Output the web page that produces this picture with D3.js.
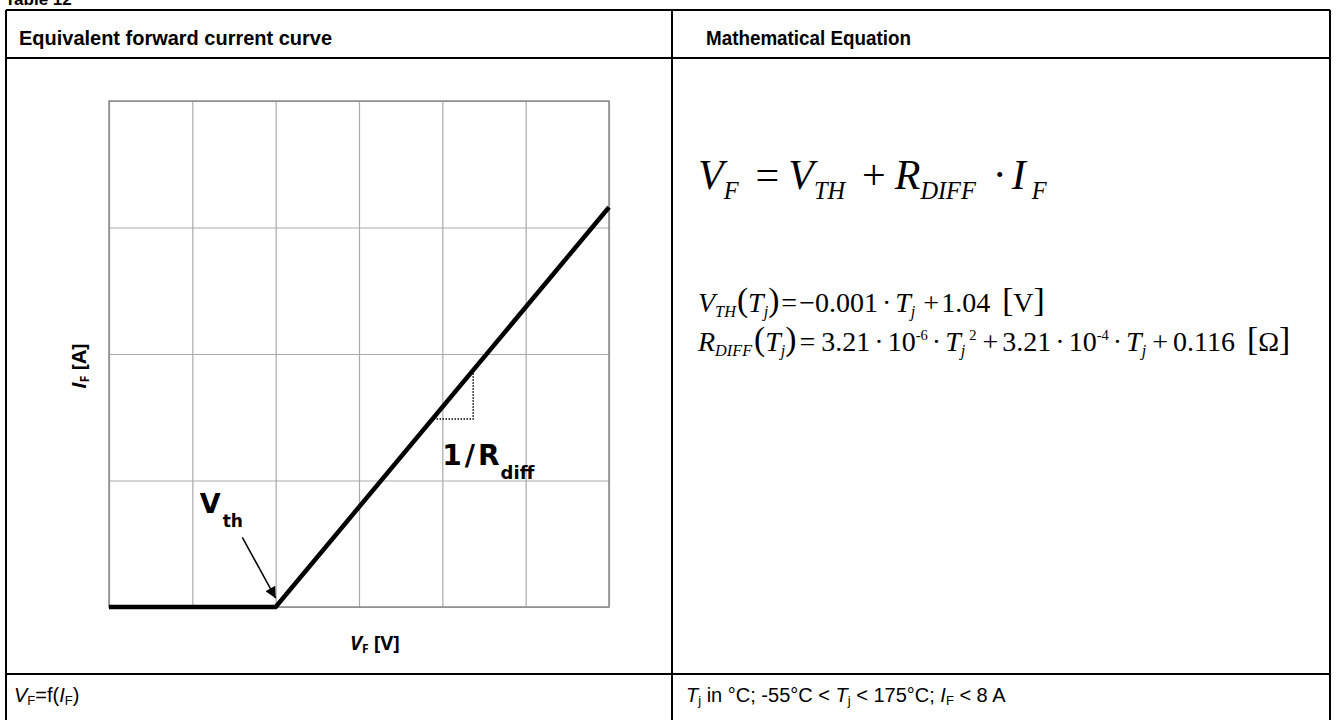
<!DOCTYPE html>
<html>
<head>
<meta charset="utf-8">
<script src="https://cdn.jsdelivr.net/npm/d3@7"></script>
<style>
  body { margin: 0; background: #fff; }
  svg { display: block; }
  .grid line { stroke: #aaa; stroke-width: 1.2; }
  .grid path { display: none; }
  .sans { font-family: "Liberation Sans", Arial, sans-serif; }
  .label { font-family: "DejaVu Sans", Verdana, sans-serif; font-weight: bold; }
  .axis-label { font-family: "Open Sans", "Noto Sans", sans-serif; font-weight: bold; }
  .math { font-family: "Liberation Serif", "Times New Roman", serif; }
</style>
</head>
<body>
<svg width="1336" height="720"></svg>
<script>
// equivalent forward curve, in grid units (6 divisions of V_F, 4 of I_F)
var vfPoints = [0, 2, 6];
var ifPoints = [0, 0, 3.16];
var xTicks = [0, 1, 2, 3, 4, 5, 6];
var yTicks = [0, 1, 2, 3, 4];

// annotations (grid units)
var vthLabel = [1.09, 0.74];
var vthArrow = [[1.6, 0.55], [2.0, 0.07]];
var rdiffLabel = [4.0, 1.12];
var slopeV = 4.37, slopeI = 1.486;

var headers = ["Equivalent forward current curve", "Mathematical Equation"];

var svg = d3.select("svg"),
    margin = {top: 101, left: 109},
    width = 500,
    height = 506;

// TABLE ------------------------
var tbl = svg.append("g").attr("class", "table");
svg.append("text")
    .attr("class", "sans")
    .attr("x", 5).attr("y", 5)
    .attr("font-size", 17).attr("font-weight", "bold")
    .text("Table 12");

var rowTop = 10, headBottom = 58, footTop = 674;
[[6, rowTop, 1330, rowTop], [6, headBottom, 1330, headBottom], [6, footTop, 1330, footTop],
 [6, 722, 1330, 722], [6, rowTop, 6, 722], [672, rowTop, 672, 722], [1330, rowTop, 1330, 722]]
  .forEach(function(l) {
    tbl.append("line")
        .attr("x1", l[0]).attr("y1", l[1])
        .attr("x2", l[2]).attr("y2", l[3])
        .attr("stroke", "#000")
        .attr("stroke-width", 2);
  });

svg.append("text").attr("class", "sans")
    .attr("x", 19).attr("y", 45)
    .attr("font-size", 21).attr("font-weight", "bold")
    .attr("textLength", 313).attr("lengthAdjust", "spacingAndGlyphs")
    .text(headers[0]);
svg.append("text").attr("class", "sans")
    .attr("x", 706).attr("y", 45)
    .attr("font-size", 21).attr("font-weight", "bold")
    .attr("textLength", 205).attr("lengthAdjust", "spacingAndGlyphs")
    .text(headers[1]);

// footer
var f1 = svg.append("text").attr("class", "sans")
    .attr("x", 14).attr("y", 702).attr("font-size", 20);
f1.append("tspan").attr("font-style", "italic").text("V");
f1.append("tspan").attr("font-size", 13).attr("dy", 3).text("F");
f1.append("tspan").attr("dy", -3).text("=f(");
f1.append("tspan").attr("font-style", "italic").text("I");
f1.append("tspan").attr("font-size", 13).attr("dy", 3).text("F");
f1.append("tspan").attr("dy", -3).text(")");

var f2 = svg.append("text").attr("class", "sans")
    .attr("x", 686).attr("y", 702).attr("font-size", 20);
f2.append("tspan").attr("font-style", "italic").text("T");
f2.append("tspan").attr("font-size", 13).attr("dy", 3).text("j");
f2.append("tspan").attr("dy", -3).text(" in °C; -55°C < ");
f2.append("tspan").attr("font-style", "italic").text("T");
f2.append("tspan").attr("font-size", 13).attr("dy", 3).text("j");
f2.append("tspan").attr("dy", -3).text(" < 175°C; ");
f2.append("tspan").attr("font-style", "italic").text("I");
f2.append("tspan").attr("font-size", 13).attr("dy", 3).text("F");
f2.append("tspan").attr("dy", -3).text(" < 8 A");

// CHART ------------------------
var x = d3.scaleLinear().domain([0, 6]).range([0, width]);
var y = d3.scaleLinear().domain([0, 4]).range([height, 0]);

var chart = svg.append("g")
    .attr("transform", "translate(" + margin.left + "," + margin.top + ")");

// grid
chart.append("g")
    .attr("class", "grid")
    .attr("transform", "translate(0," + height + ")")
  .call(d3.axisBottom(x).tickValues(xTicks).tickSize(-height).tickFormat(""));
chart.append("g")
    .attr("class", "grid")
  .call(d3.axisLeft(y).tickValues(yTicks).tickSize(-width).tickFormat(""));
chart.append("rect")
    .attr("x", 0).attr("y", 0)
    .attr("width", width).attr("height", height)
    .attr("fill", "none")
    .attr("stroke", "#8a8a8a")
    .attr("stroke-width", 1.5);

// curve
var pts = vfPoints.map(function(v, i) { return [v, ifPoints[i]]; });
var line = d3.line()
    .x(function(d) { return x(d[0]); })
    .y(function(d) { return y(d[1]); });
chart.append("path")
    .datum(pts)
    .attr("d", line)
    .attr("fill", "none")
    .attr("stroke", "#000")
    .attr("stroke-width", 4.5);

// slope triangle (dotted)
var slope = (ifPoints[2] - ifPoints[1]) / (vfPoints[2] - vfPoints[1]);
var iAt = function(v) { return (v - vfPoints[1]) * slope; };
var vAt = function(i) { return vfPoints[1] + i / slope; };
chart.append("path")
    .datum([[slopeV, iAt(slopeV)], [slopeV, slopeI], [vAt(slopeI), slopeI]])
    .attr("d", line)
    .attr("fill", "none")
    .attr("stroke", "#000")
    .attr("stroke-width", 1.5)
    .attr("stroke-dasharray", "1.5,1.5");

// V_th arrow
svg.append("defs").append("marker")
    .attr("id", "arrowhead")
    .attr("viewBox", "0 0 10 10")
    .attr("refX", 10).attr("refY", 5)
    .attr("markerUnits", "userSpaceOnUse")
    .attr("markerWidth", 14).attr("markerHeight", 11)
    .attr("orient", "auto")
  .append("path")
    .attr("d", "M0,0L10,5L0,10z")
    .attr("fill", "#000");
chart.append("path")
    .datum(vthArrow)
    .attr("d", line)
    .attr("stroke", "#000")
    .attr("stroke-width", 1.5)
    .attr("marker-end", "url(#arrowhead)");

var vth = chart.append("text").attr("class", "label")
    .attr("x", x(vthLabel[0])).attr("y", y(vthLabel[1]))
    .attr("font-size", 27);
vth.append("tspan").text("V");
vth.append("tspan").attr("font-size", 17).attr("dx", 2).attr("dy", 14).text("th");

var rd = chart.append("text").attr("class", "label")
    .attr("x", x(rdiffLabel[0])).attr("y", y(rdiffLabel[1]))
    .attr("font-size", 28);
rd.append("tspan").text("1");
rd.append("tspan").attr("dx", 3).text("/");
rd.append("tspan").attr("dx", 3).text("R");
rd.append("tspan").attr("font-size", 18).attr("dx", 1).attr("dy", 14).text("diff");

// axis labels
var xl = chart.append("text").attr("class", "axis-label")
    .attr("x", 266).attr("y", height + 43)
    .attr("text-anchor", "middle")
    .attr("font-size", 20);
xl.append("tspan").attr("font-style", "italic").text("V");
xl.append("tspan").attr("font-size", 12).attr("dy", 3).text("F");
xl.append("tspan").attr("dy", -3).text(" [V]");

var yl = chart.append("text").attr("class", "axis-label")
    .attr("transform", "translate(-23," + (height / 2 + 12) + ") rotate(-90)")
    .attr("text-anchor", "middle")
    .attr("font-size", 20);
yl.append("tspan").attr("font-style", "italic").text("I");
yl.append("tspan").attr("font-size", 12).attr("dy", 3).text("F");
yl.append("tspan").attr("dy", -3).text(" [A]");

// EQUATIONS ------------------------
function mathLine(x0, y0, size, subShift, parts) {
  var t = svg.append("text").attr("class", "math")
      .attr("x", x0).attr("y", y0)
      .attr("font-size", size);
  var shift = 0;
  parts.forEach(function(p) {
    var kind = p[1], fs = size, off = 0, it = false;
    if (kind === "i") it = true;
    if (kind === "sub") { it = true; fs = size * 0.58; off = size * subShift; }
    if (kind === "sup") { fs = size * 0.52; off = -size * 0.4; }
    if (kind === "big") { fs = size * 1.2; off = -size * 0.02; }
    t.append("tspan")
        .attr("dx", p[2] || 0)
        .attr("dy", off - shift)
        .attr("font-size", fs)
        .attr("font-style", it ? "italic" : "normal")
        .text(p[0]);
    shift = off;
  });
}

mathLine(698, 189, 42, 0.24, [
  ["V", "i"], ["F", "sub"], ["=", "n", 17], ["V", "i", 9], ["TH", "sub"],
  ["+", "n", 17], ["R", "i", 9], ["DIFF", "sub"], ["·", "n", 17],
  ["I", "i", 5], ["F", "sub", 6]
]);

mathLine(698, 312, 28, 0.17, [
  ["V", "i"], ["TH", "sub"], ["(", "big", 1], ["T", "i"], ["j", "sub"], [")", "big"],
  ["=", "n", 2], ["\u22120.001", "n", 2], ["·", "n", 4], ["T", "i", 4], ["j", "sub"],
  ["+", "n", 8], ["1.04", "n", 2], ["[", "big", 12], ["V", "n"], ["]", "big"]
]);

mathLine(698, 351, 28, 0.17, [
  ["R", "i"], ["DIFF", "sub"], ["(", "big", 2], ["T", "i"], ["j", "sub"], [")", "big"],
  ["=", "n", 3], ["3.21", "n", 6], ["·", "n", 4], ["10", "n", 4], ["-6", "sup"],
  ["·", "n", 4], ["T", "i", 4], ["j", "sub"], ["2", "sup", 4],
  ["+", "n", 6], ["3.21", "n", 4], ["·", "n", 4], ["10", "n", 4], ["-4", "sup"],
  ["·", "n", 4], ["T", "i", 4], ["j", "sub"],
  ["+", "n", 6], ["0.116", "n", 5], ["[", "big", 12], ["\u03A9", "n"], ["]", "big"]
]);
</script>
</body>
</html>
